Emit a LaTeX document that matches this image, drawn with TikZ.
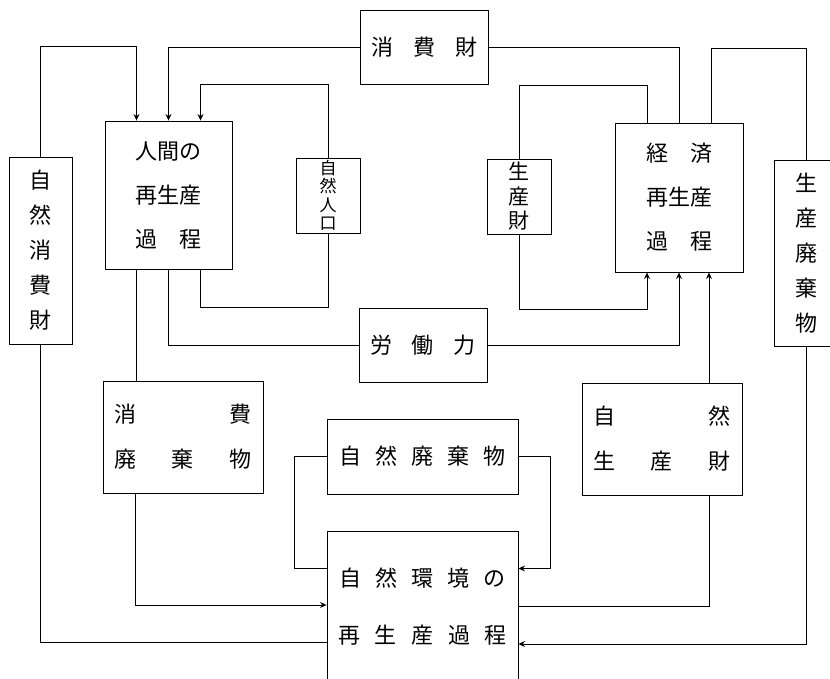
\documentclass[tikz,border=0pt]{standalone}
\usepackage{fontspec}
\setmainfont{Noto Sans CJK JP}
\usetikzlibrary{arrows.meta, calc}

\newcommand{\spreadrow}[2]{\makebox[#1][s]{#2}}

\begin{document}
\begin{tikzpicture}[
    x=1pt, y=-1pt,
    >={Stealth[length=6.5pt,width=6pt]},
    line width=0.9pt,
    box/.style     = {rectangle, draw=black, inner sep=0pt, align=center,
                      font={\fontsize{22}{44}\selectfont}},
    widebox/.style = {box, minimum width=160pt, minimum height=112pt,
                      font={\fontsize{22}{45}\selectfont}},
    tallbox/.style = {box, minimum width=63pt, minimum height=187pt,
                      font={\fontsize{22}{35}\selectfont}},
    smallbox/.style= {box, minimum width=64pt, minimum height=75pt},
    flat/.style    = {box, minimum width=128pt, minimum height=74pt},
]

\useasboundingbox (0,0) rectangle (830,679);
\clip (0,0) rectangle (830,679);

% top row
\node[flat] (consgoods) at (424,47.5) {\spreadrow{106pt}{消\hfill 費\hfill 財}};

% human and economic reproduction
\node[box, minimum width=127pt, minimum height=148pt] (human) at (168.5,195)
    {人間の\\再生産\\\spreadrow{3em}{過\hfill 程}};
\node[box, minimum width=128pt, minimum height=149pt] (econ) at (679,197.5)
    {\spreadrow{3em}{経\hfill 済}\\再生産\\\spreadrow{3em}{過\hfill 程}};

\node[smallbox, font={\fontsize{17}{18.5}\selectfont}] (natpop) at (328,195.5)
    {自\\然\\人\\口};
\node[smallbox, font={\fontsize{21}{24.5}\selectfont}] (prodgoods) at (519,196.5)
    {生\\産\\財};

\node[tallbox] (natcons) at (40.5,250.5) {自\\然\\消\\費\\財};
\node[tallbox, minimum height=186pt] (prodwaste) at (806,253) {生\\産\\廃\\棄\\物};

\node[flat] (labour) at (423,345) {\spreadrow{105pt}{労\hfill 働\hfill 力}};

% waste and natural goods
\node[widebox] (conswaste) at (183,437)
    {\spreadrow{137pt}{消\hfill 費}\\\spreadrow{137pt}{廃\hfill 棄\hfill 物}};
\node[widebox] (natprod) at (662,439)
    {\spreadrow{137pt}{自\hfill 然}\\\spreadrow{137pt}{生\hfill 産\hfill 財}};

\node[box, minimum width=191pt, minimum height=75pt] (natwaste) at (422.5,456.5)
    {\spreadrow{167pt}{自\hfill 然\hfill 廃\hfill 棄\hfill 物}};
\node[box, minimum width=191pt, minimum height=151pt,
      font={\fontsize{22}{57}\selectfont}] (environ) at (422.5,606.5)
    {\spreadrow{167pt}{自\hfill 然\hfill 環\hfill 境\hfill の}\\
     \spreadrow{169pt}{再\hfill 生\hfill 産\hfill 過\hfill 程}};

% into human reproduction
\draw[->] (natcons.north) -- ++(0,-110) -| ([xshift=-32pt]human.north);
\draw[->] (consgoods.west) -| (human.north);
\draw[->] (natpop.north) -- ++(0,-73) -| ([xshift=32pt]human.north);

% out of human reproduction
\draw ([xshift=32pt]human.south) -- ++(0,38) -| (natpop.south);
\draw (human.south) |- (labour.west);
\draw ([xshift=-32pt]human.south) -- ([xshift=-32pt]human.south |- conswaste.north);

% into natural environment
\draw[->] ([xshift=-48pt]conswaste.south) |- ([yshift=1.5pt]environ.west);
\draw (natcons.south) |- ([yshift=-36pt]environ.west);
\draw (natwaste.west) -- ++(-32,0) |- ([yshift=38pt]environ.west);
\draw[->] (natwaste.east) -- ++(32,0) |- ([yshift=38pt]environ.east);
\draw[->] (prodwaste.south) |- ([yshift=-37.5pt]environ.east);

% into economic reproduction
\draw (environ.east) -| ([xshift=47pt]natprod.south);
\draw[->] ([xshift=47pt]natprod.north) -- ([xshift=47pt]natprod.north |- econ.south);
\draw[->] (labour.east) -| (econ.south);
\draw[->] (prodgoods.south) -- ++(0,75) -| ([xshift=-32pt]econ.south);

% out of economic reproduction
\draw ([xshift=-32pt]econ.north) -- ++(0,-37) -| (prodgoods.north);
\draw (consgoods.east) -| (econ.north);
\draw ([xshift=32pt]econ.north) -- ++(0,-74) -| (prodwaste.north);

\end{tikzpicture}
\end{document}
